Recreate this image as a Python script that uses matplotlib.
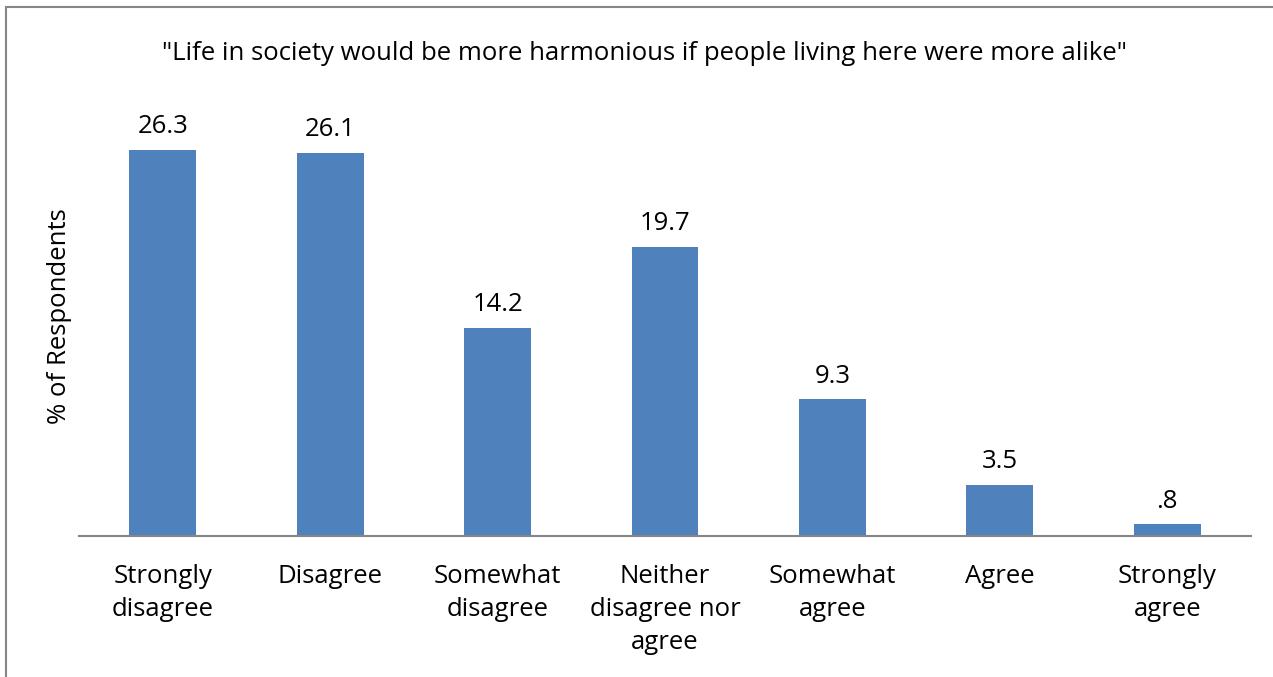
import matplotlib
matplotlib.use("Agg")
import matplotlib.pyplot as plt
from matplotlib.patches import Rectangle

categories = ["Strongly\ndisagree", "Disagree", "Somewhat\ndisagree",
              "Neither\ndisagree nor\nagree", "Somewhat\nagree", "Agree",
              "Strongly\nagree"]
values = [26.3, 26.1, 14.2, 19.7, 9.3, 3.5, 0.8]
value_labels = ["26.3", "26.1", "14.2", "19.7", "9.3", "3.5", ".8"]
title = '"Life in society would be more harmonious if people living here were more alike"'

plt.rcParams['font.family'] = ['Open Sans', 'DejaVu Sans']
FS = 18.5

W, H = 1273, 677
fig = plt.figure(figsize=(W / 100, H / 100), dpi=100)
ax = fig.add_axes([79 / W, 141 / H, (1251 - 79) / W, (536 - 95.6) / H])

x = range(len(values))
ax.bar(x, values, width=0.4, color='#4F81BD')
for xi, v, lab in zip(x, values, value_labels):
    ax.annotate(lab, (xi, v), xytext=(0, 7.5), textcoords='offset points',
                ha='center', va='bottom', fontsize=FS)

ax.set_xlim(-0.5, len(values) - 0.5)
ax.set_ylim(0, 30)
ax.set_yticks([])
ax.set_xticks(list(x))
ax.set_xticklabels(categories, fontsize=FS, linespacing=1.43)
ax.tick_params(axis='x', length=0, pad=20)
for s in ['top', 'right', 'left']:
    ax.spines[s].set_visible(False)
ax.spines['bottom'].set_color('#868686')
ax.spines['bottom'].set_linewidth(1.5)

fig.text(644 / W, 1 - 53 / H, title, ha='center', va='center', fontsize=FS)
fig.text(60 / W, 1 - 316 / H, '% of Respondents', rotation=90,
         ha='center', va='center', fontsize=FS)

# outer chart frame, running off the right and bottom edges
fig.patches.append(Rectangle((6 / W, -0.05), 1.1, 1 - 7 / H + 0.05,
                             transform=fig.transFigure, fill=False,
                             edgecolor='#868686', linewidth=1.5))

fig.savefig('out.png', dpi=100)
